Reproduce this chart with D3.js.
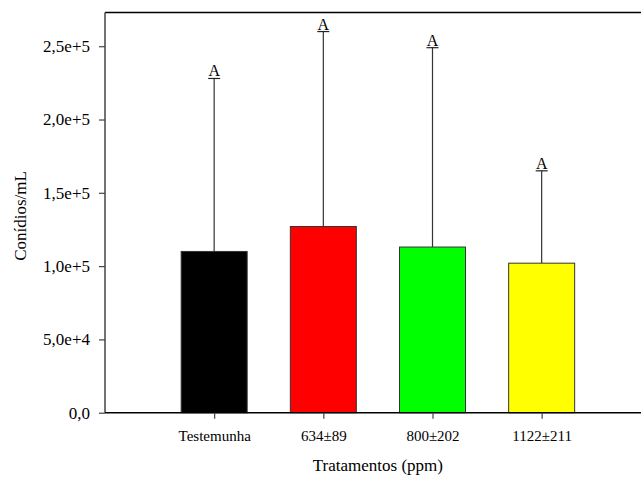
<!DOCTYPE html>
<html>
<head>
<meta charset="utf-8">
<script src="https://cdn.jsdelivr.net/npm/d3@7"></script>
<style>
  body { margin: 0; background: #fff; }
  text { font-family: "Liberation Serif", "Times New Roman", serif; fill: #000; }
</style>
</head>
<body>
<script>
// treatments and their mean / error
var treatments = ["Testemunha", "634\u00b189", "800\u00b1202", "1122\u00b1211"];
var means = [110000, 127000, 113000, 102000];
var errors = [118000, 133000, 136000, 63000];
var letters = ["A", "A", "A", "A"];
var barColors = ["#000000", "#ff0000", "#00ff00", "#ffff00"];

var yTicks = [0, 50000, 100000, 150000, 200000, 250000];
var yTickLabels = ["0,0", "5,0e+4", "1,0e+5", "1,5e+5", "2,0e+5", "2,5e+5"];

var width = 641, height = 478;
// note: "top" is taken by window.top, so plot edges get their own names
var plotL = 105, plotR = 641, plotT = 12.5, plotB = 412.7;

var svg = d3.select("body").append("svg")
  .attr("width", width)
  .attr("height", height);

// bars sit at positions 1..4 on a linear x axis
var x = d3.scaleLinear().domain([0, 4.91]).range([plotL, plotR]);
var y = d3.scaleLinear().domain([0, 273000]).range([plotB, plotT]);
var barW = 66;

// error bars (drawn first, bar covers the lower part)
var eb = svg.selectAll(".err").data(means).enter().append("g");
eb.append("line")
  .attr("x1", function(d, i) { return x(i + 1); })
  .attr("x2", function(d, i) { return x(i + 1); })
  .attr("y1", function(d) { return y(d); })
  .attr("y2", function(d, i) { return y(d + errors[i]); })
  .attr("stroke", "#333").attr("stroke-width", 1.2);
eb.append("line")
  .attr("x1", function(d, i) { return x(i + 1) - 6; })
  .attr("x2", function(d, i) { return x(i + 1) + 6; })
  .attr("y1", function(d, i) { return y(d + errors[i]); })
  .attr("y2", function(d, i) { return y(d + errors[i]); })
  .attr("stroke", "#222").attr("stroke-width", 1.2);
eb.append("text")
  .attr("x", function(d, i) { return x(i + 1); })
  .attr("y", function(d, i) { return y(d + errors[i]) - 2; })
  .attr("text-anchor", "middle")
  .style("font-size", "16px")
  .text(function(d, i) { return letters[i]; });

// bars
svg.selectAll(".bar").data(means).enter().append("rect")
  .attr("x", function(d, i) { return x(i + 1) - barW / 2; })
  .attr("y", function(d) { return y(d); })
  .attr("width", barW)
  .attr("height", function(d) { return plotB - y(d); })
  .attr("fill", function(d, i) { return barColors[i]; })
  .attr("stroke", "#333").attr("stroke-width", 1);

// top frame line
svg.append("line").attr("x1", plotL).attr("x2", plotR).attr("y1", plotT).attr("y2", plotT)
  .attr("stroke", "#000").attr("stroke-width", 1.5);

// y axis
var yAxis = d3.axisLeft(y).tickValues(yTicks).tickSize(6).tickPadding(9)
  .tickFormat(function(d, i) { return yTickLabels[i]; });
var gy = svg.append("g").attr("transform", "translate(" + plotL + ",0)").call(yAxis);
gy.select(".domain").attr("stroke", "#444").attr("stroke-width", 1.5).attr("d", "M0," + plotT + "V" + plotB);
gy.selectAll(".tick line").attr("stroke", "#444").attr("stroke-width", 1.2);
gy.selectAll("text").style("font-family", "Liberation Serif").style("font-size", "17px").attr("fill", "#000");

// x axis
var xAxis = d3.axisBottom(x).tickValues([1, 2, 3, 4]).tickSize(6).tickPadding(12)
  .tickFormat(function(d) { return treatments[d - 1]; });
var gx = svg.append("g").attr("transform", "translate(0," + plotB + ")").call(xAxis);
gx.select(".domain").attr("stroke", "#000").attr("stroke-width", 1.5).attr("d", "M" + plotL + ",0H" + plotR);
gx.selectAll(".tick line").attr("stroke", "#444").attr("stroke-width", 1.2);
gx.selectAll("text").style("font-family", "Liberation Serif").style("font-size", "15px").attr("fill", "#000");

// axis titles
svg.append("text")
  .attr("x", (x(1) + x(4)) / 2).attr("y", 471)
  .attr("text-anchor", "middle")
  .style("font-size", "17px")
  .text("Tratamentos (ppm)");
svg.append("text")
  .attr("transform", "translate(26,216) rotate(-90)")
  .attr("text-anchor", "middle")
  .style("font-size", "17px")
  .text("Conídios/mL");
</script>
</body>
</html>
